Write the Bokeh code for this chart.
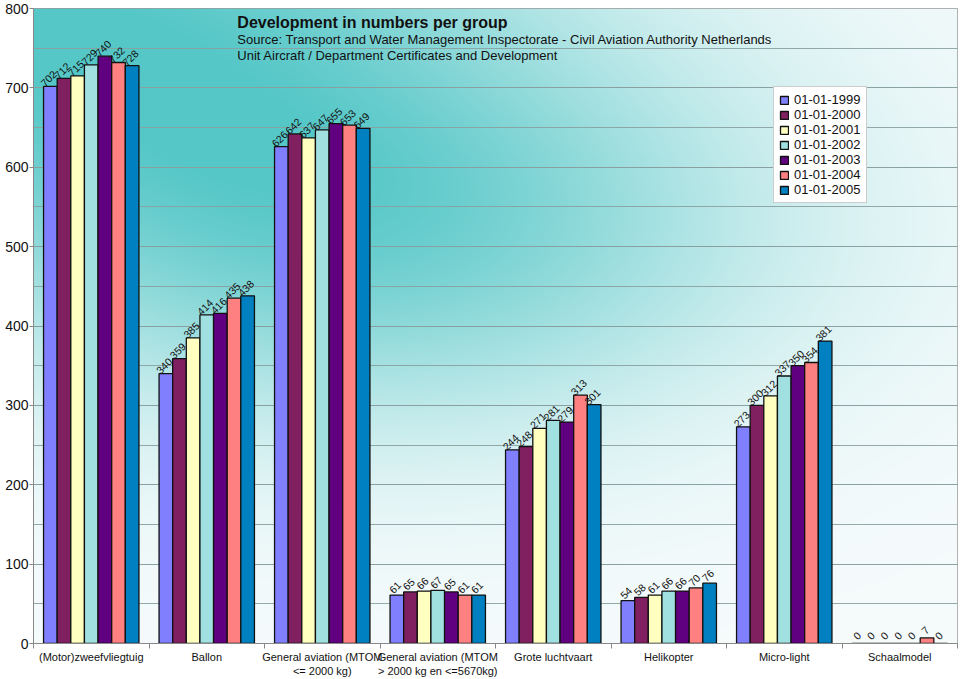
import numpy as np
from bokeh.plotting import figure
from bokeh.models import ColumnDataSource, FixedTicker, SingleIntervalTicker, Label, Range1d
from bokeh.embed import file_html
from bokeh.resources import INLINE
from bokeh.core.properties import value

categories = ["(Motor)zweefvliegtuig", "Ballon", "General aviation (MTOM\n<= 2000 kg)",
              "General aviation (MTOM\n> 2000 kg en <=5670kg)", "Grote luchtvaart",
              "Helikopter", "Micro-light", "Schaalmodel"]
series = ["01-01-1999", "01-01-2000", "01-01-2001", "01-01-2002", "01-01-2003", "01-01-2004", "01-01-2005"]
v1999 = [702, 340, 626, 61, 244, 54, 273, 0]
v2000 = [712, 359, 642, 65, 248, 58, 300, 0]
v2001 = [715, 385, 637, 66, 271, 61, 312, 0]
v2002 = [729, 414, 647, 67, 281, 66, 337, 0]
v2003 = [740, 416, 655, 65, 279, 66, 350, 0]
v2004 = [732, 435, 653, 61, 313, 70, 354, 7]
v2005 = [728, 438, 649, 61, 301, 76, 381, 0]
values_by_series = [v1999, v2000, v2001, v2002, v2003, v2004, v2005]
colors = ["#8080ff", "#802060", "#ffffc0", "#a0e0e0", "#600080", "#ff8080", "#0080c0"]

FONT = "Liberation Sans"
n_cat = len(categories)
bar_w = 0.118

p = figure(width=960, height=679, x_range=Range1d(0, n_cat), y_range=Range1d(0, 800),
           output_backend="svg", toolbar_location=None,
           min_border_left=33, min_border_right=3, min_border_top=8, min_border_bottom=34,
           background_fill_color="white", border_fill_color="white")
p.outline_line_color = "#999999"

# background gradient (teal to white)
nx, ny = 462, 319
xs = np.linspace(0, 924, nx)
ys = np.linspace(637, 0, ny)  # row 0 = bottom; distance from top of frame
X, Y = np.meshgrid(xs, ys)
blob = 0.62 * np.exp(-((X - 360) ** 2 / (2 * 270 ** 2) + (Y - 225) ** 2 / (2 * 140 ** 2)))
corner = 0.80 * np.exp(-((X) ** 2 / (2 * 320 ** 2) + (Y) ** 2 / (2 * 170 ** 2)))
a = np.clip(blob + corner, 0, 0.88)
W = np.array([246, 251, 252.0])
T = np.array([64, 192, 192.0])
rgb = W[None, None, :] * (1 - a[..., None]) + T[None, None, :] * a[..., None]
img = np.empty((ny, nx), dtype=np.uint32)
view = img.view(dtype=np.uint8).reshape((ny, nx, 4))
view[..., 0] = rgb[..., 0].astype(np.uint8)
view[..., 1] = rgb[..., 1].astype(np.uint8)
view[..., 2] = rgb[..., 2].astype(np.uint8)
view[..., 3] = 255
bg = p.image_rgba(image=[img], x=0, y=0, dw=n_cat, dh=800)
bg.level = "image"

# bars
for j, (name, vals, col) in enumerate(zip(series, values_by_series, colors)):
    xpos = [i + 0.5 + (j - 3) * bar_w for i in range(n_cat)]
    src = ColumnDataSource(dict(x=xpos, top=vals, lab=[str(v) for v in vals]))
    p.vbar(x="x", top="top", width=bar_w, source=src, fill_color=col,
           line_color="#111111", line_width=1.3, legend_label=name)
    p.text(x="x", y="top", text="lab", source=src, angle=45, angle_units="deg",
           text_align="center", text_baseline="bottom", x_offset=1, y_offset=-5,
           text_font=value(FONT), text_font_size="10.5px", text_color="#111111")

# axes
p.xaxis.ticker = FixedTicker(ticks=[i + 0.5 for i in range(n_cat)], minor_ticks=list(range(n_cat + 1)))
p.xaxis.major_label_overrides = {i + 0.5: c for i, c in enumerate(categories)}
p.xaxis.major_tick_out = 0
p.xaxis.major_tick_in = 0
p.xaxis.minor_tick_out = 5
p.xaxis.minor_tick_in = 0
p.xaxis.minor_tick_line_color = "#888888"
p.xaxis.axis_line_color = "#888888"
p.xaxis.major_label_text_font = FONT
p.xaxis.major_label_text_font_size = "11px"
p.xaxis.major_label_standoff = 2
p.xaxis.major_label_text_color = "#111111"

yt = SingleIntervalTicker(interval=100, num_minor_ticks=2)
p.yaxis.ticker = yt
p.yaxis.major_tick_out = 4
p.yaxis.major_tick_in = 0
p.yaxis.minor_tick_out = 0
p.yaxis.minor_tick_in = 0
p.yaxis.axis_line_color = "#888888"
p.yaxis.major_tick_line_color = "#888888"
p.yaxis.major_label_text_font = FONT
p.yaxis.major_label_text_font_size = "14px"
p.yaxis.major_label_standoff = 1
p.yaxis.major_label_text_color = "#111111"

p.xgrid.visible = False
p.ygrid.ticker = yt
p.ygrid.grid_line_color = "#8aa0a0"
p.ygrid.minor_grid_line_color = "#8aa0a0"
p.ygrid.grid_line_alpha = 0.9
p.ygrid.minor_grid_line_alpha = 0.9

# title texts inside plot
p.add_layout(Label(x=1.765, y=793, text="Development in numbers per group", text_baseline="top",
                   text_font=FONT, text_font_size="16px", text_font_style="bold", text_color="#111111"))
p.add_layout(Label(x=1.765, y=770, text="Source: Transport and Water Management Inspectorate - Civil Aviation Authority Netherlands",
                   text_baseline="top", text_font=FONT, text_font_size="13px", text_color="#111111"))
p.add_layout(Label(x=1.765, y=750, text="Unit Aircraft / Department Certificates and Development",
                   text_baseline="top", text_font=FONT, text_font_size="13px", text_color="#111111"))

# legend
lg = p.legend[0]
lg.location = (740, 440)
lg.label_text_font = FONT
lg.label_text_font_size = "13px"
lg.label_text_color = "#111111"
lg.label_height = 13
lg.glyph_height = 10
lg.glyph_width = 10
lg.spacing = 0
lg.padding = 5
lg.margin = 0
lg.label_standoff = 5
lg.border_line_color = "#999999"
lg.background_fill_color = "white"
lg.background_fill_alpha = 1.0

open("out.html", "w").write(file_html(p, INLINE))
